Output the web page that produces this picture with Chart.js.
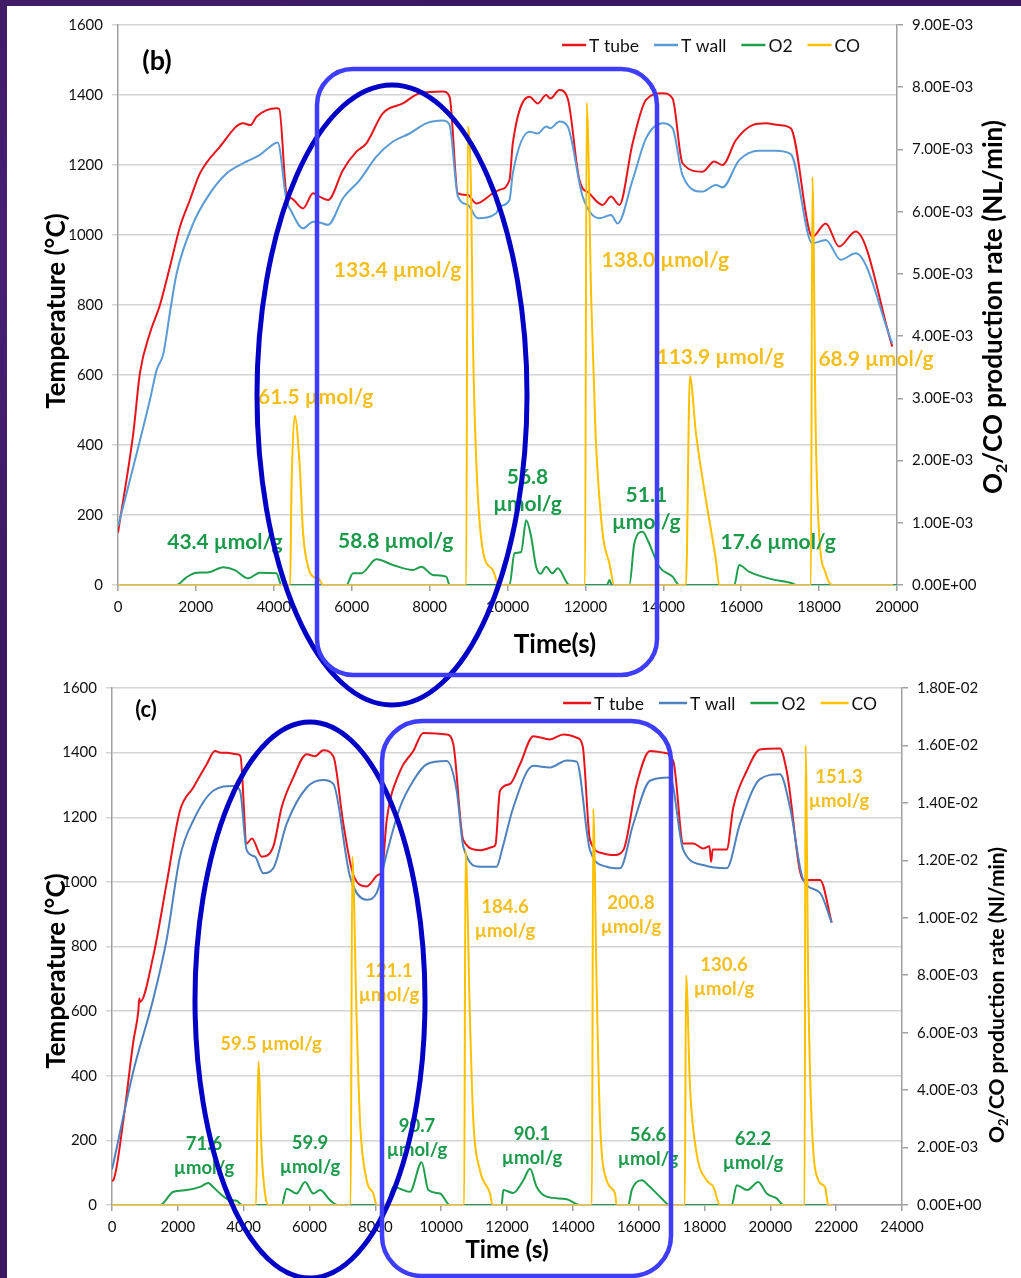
<!DOCTYPE html>
<html>
<head>
<meta charset="utf-8">
<script src="https://cdn.jsdelivr.net/npm/chart.js@4/dist/chart.umd.min.js"></script>
<style>
  body { margin: 0; width: 1021px; height: 1278px; overflow: hidden; position: relative;
    background: radial-gradient(circle at 10% 20%, #4a2276 0, transparent 30%),
                radial-gradient(circle at 80% 90%, #45206f 0, transparent 35%), #3b1861; }
  #paper { position: absolute; left: 7px; top: 6px; right: 0; bottom: 0; background: #fff; }
  canvas { position: absolute; left: 0; }
  #chartB { top: 0; }
  #chartC { top: 670px; }
  svg { position: absolute; left: 0; top: 0; }
</style>
</head>
<body>
<div id="paper"></div>
<canvas id="chartB" width="1021" height="680"></canvas>
<canvas id="chartC" width="1021" height="608"></canvas>
<svg width="1021" height="1278">
  <ellipse cx="392" cy="395" rx="135" ry="310" fill="none" stroke="#0202c6" stroke-width="5"/>
  <rect x="317" y="69" width="340" height="606" rx="36" fill="none" stroke="#3d3dfb" stroke-width="4.5"/>
  <ellipse cx="310" cy="1000" rx="115" ry="278" fill="none" stroke="#0202c6" stroke-width="5"/>
  <rect x="382" y="721" width="289" height="555" rx="40" fill="none" stroke="#3d3dfb" stroke-width="4.5"/>
</svg>
<script>
// ---- panel (b): [time s, value] ----
const bTube = [[0,150],[393,434],[564,606],[820,720],[1077,800],[1333,909],[1590,1023],[1846,1100],[2103,1176],
  [2615,1252],[3213,1319],[3400,1314],[3556,1338],[4069,1362],[4140,1360],[4325,1119],[4453,1105],[4752,1076],
  [5008,1119],[5200,1108],[5393,1100],[5777,1186],[6120,1238],[6377,1262],[6803,1348],[7316,1376],[7744,1405],
  [8341,1410],[8513,1395],[8726,1119],[8982,1114],[9197,1090],[9623,1119],[9795,1129],[10051,1157],[10136,1262],
  [10564,1395],[10777,1376],[10992,1400],[11100,1390],[11333,1414],[11546,1390],[11846,1157],[12102,1119],
  [12443,1086],[12658,1110],[12871,1086],[13212,1262],[13556,1386],[13982,1405],[14238,1390],[14494,1205],
  [15007,1181],[15307,1210],[15520,1200],[15864,1271],[16290,1314],[16632,1319],[16974,1314],[17274,1305],
  [17828,995],[18171,1033],[18513,967],[18940,1010],[19880,681]];
const bWall = [[0,167],[393,338],[820,529],[992,614],[1162,660],[1350,790],[1505,890],[1931,1033],[2359,1119],
  [2787,1176],[3213,1205],[3300,1210],[3641,1229],[4025,1262],[4100,1264],[4325,1100],[4453,1067],[4752,1019],
  [5008,1038],[5200,1035],[5393,1029],[5777,1105],[6205,1157],[6633,1224],[7060,1267],[7487,1290],[7915,1319],
  [8341,1327],[8513,1314],[8726,1110],[8982,1086],[9238,1048],[9710,1062],[9795,1081],[10051,1100],[10136,1176],
  [10564,1295],[10777,1290],[10992,1310],[11100,1305],[11333,1324],[11546,1310],[11930,1110],[12359,1048],
  [12658,1057],[12828,1033],[13212,1157],[13556,1276],[13982,1319],[14238,1305],[14494,1171],[15007,1124],
  [15350,1143],[15520,1136],[15948,1214],[16461,1241],[16888,1241],[17274,1231],[17828,976],[18171,986],
  [18556,929],[18940,948],[19880,690]];
const bO2 = [[0,0],[1500,0],[1750,1.2e-4],[2018,1.98e-4],[2300,2.0e-4],[2700,2.84e-4],[3000,2.4e-4],[3341,1.07e-4],
  [3641,1.98e-4],[4069,1.88e-4],[4197,0],[5862,0],[6034,1.88e-4],[6250,1.9e-4],[6633,4.13e-4],[7060,3.21e-4],
  [7573,2.41e-4],[7787,2.94e-4],[8085,1.61e-4],[8428,1.34e-4],[8513,0],[10051,0],[10179,5.1e-4],[10350,5.3e-4],
  [10479,1.04e-3],[10600,8.0e-4],[10735,2.94e-4],[10850,1.8e-4],[10992,2.94e-4],[11150,1.88e-4],[11290,2.68e-4],
  [11590,0],[12550,0],[12620,8e-5],[12680,0],[13128,0],[13256,6.7e-4],[13469,8.57e-4],[13600,7.2e-4],
  [13897,2.94e-4],[14238,1.34e-4],[14410,0],[15820,0],[15948,3.21e-4],[16200,2.14e-4],[16802,9e-5],
  [17315,2.7e-5],[17400,0],[20000,0]];
const bCO = [[0,0],[4420,0],[4453,1.5e-3],[4538,2.72e-3],[4667,1.9e-3],[4752,8.3e-4],[4880,2.94e-4],[5008,1.34e-4],
  [5150,1.07e-4],[5264,0],[8940,0],[8982,7.37e-3],[9068,6.19e-3],[9111,4.0e-3],[9197,2.0e-3],[9366,5.6e-4],
  [9623,2.4e-4],[9780,0],[11990,0],[12033,7.75e-3],[12150,4.58e-3],[12260,2.44e-3],[12443,8.3e-4],[12615,3.5e-4],
  [12743,0],[14581,0],[14684,3.36e-3],[14838,2.44e-3],[15094,1.37e-3],[15350,4.0e-4],[15435,0],[17790,0],
  [17828,6.56e-3],[17914,2.44e-3],[18000,8.3e-4],[18171,1.88e-4],[18340,0],[19900,0]];
// amounts written on panel (b): [text, time, temperature]
const bCoNotes = [['133.4 µmol/g',7179,900],['138.0 µmol/g',14051,929],['61.5 µmol/g',5077,537],
  ['113.9 µmol/g',15462,651],['68.9 µmol/g',19462,646]];
const bO2Notes = [['43.4 µmol/g',2744,123],['58.8 µmol/g',7128,126],['56.8\nµmol/g',10513,309],
  ['51.1\nµmol/g',13564,257],['17.6 µmol/g',16949,123]];

// ---- panel (c) ----
const cTube = [[0,75],[40,77],[344,261],[648,506],[800,600],[830,640],[851,628],[1255,771],[1661,996],[2066,1221],
  [2470,1292],[2877,1364],[3129,1405],[3300,1400],[3484,1400],[3788,1395],[3900,1390],[4092,1119],[4250,1134],
  [4548,1078],[4900,1109],[5155,1231],[5508,1323],[5915,1395],[6167,1389],[6420,1407],[6724,1389],[7028,1180],
  [7331,1022],[7737,986],[8091,1022],[8200,1030],[8345,1190],[8750,1343],[9153,1405],[9458,1461],[10168,1456],
  [10370,1425],[10673,1129],[11180,1098],[11584,1109],[11650,1115],[11787,1282],[12091,1303],[12395,1364],
  [12800,1451],[13306,1441],[13711,1456],[14117,1446],[14300,1420],[14522,1129],[14926,1088],[15230,1083],
  [15534,1098],[15940,1303],[16345,1405],[16749,1400],[17053,1374],[17357,1119],[17660,1119],[17963,1103],
  [18150,1110],[18200,1062],[18250,1100],[18674,1100],[18876,1231],[19282,1343],[19686,1410],[20294,1413],
  [20497,1343],[21001,1006],[21509,1006],[21864,874]];
const cWall = [[0,110],[40,128],[648,414],[1255,638],[1661,822],[2066,1078],[2470,1190],[3077,1282],[3686,1297],
  [3889,1282],[4092,1098],[4345,1078],[4597,1027],[4900,1042],[5307,1180],[5915,1292],[6420,1315],[6724,1303],
  [7230,1017],[7737,945],[8041,966],[8345,1088],[8750,1231],[9153,1313],[9560,1364],[10168,1374],[10472,1282],
  [10673,1109],[11180,1047],[11686,1047],[11850,1100],[12193,1231],[12800,1359],[13306,1354],[13813,1376],
  [14117,1372],[14522,1098],[15028,1047],[15433,1042],[15838,1180],[16345,1313],[16952,1323],[17357,1098],
  [17963,1052],[18674,1042],[19079,1180],[19686,1318],[20294,1333],[20598,1231],[21001,1006],[21509,966],
  [21864,874]];
const cO2 = [[0,0],[1458,0],[1863,4.6e-4],[2268,5.2e-4],[2673,6.3e-4],[2926,7.7e-4],[3050,6.5e-4],[3281,4.0e-4],
  [3585,1.7e-4],[3788,1.5e-4],[3950,0],[5155,0],[5307,5.7e-4],[5611,4.0e-4],[5864,8.0e-4],[6116,4.0e-4],
  [6319,5.2e-4],[6623,1.7e-4],[6850,0],[8345,0],[8547,6.3e-4],[9053,4.6e-4],[9408,1.49e-3],[9610,5.2e-4],
  [9965,4.0e-4],[10269,0],[11837,0],[11888,5.2e-4],[12190,4.2e-4],[12496,8.6e-4],[12699,1.26e-3],[12902,6.3e-4],
  [13205,2.9e-4],[13813,2.0e-4],[14218,0],[15686,0],[15790,5.2e-4],[16091,8.6e-4],[16290,6.9e-4],[16648,2.9e-4],
  [16952,0],[18826,0],[18978,6.9e-4],[19300,5.2e-4],[19635,8.0e-4],[19889,4.0e-4],[20193,2.3e-4],[20396,0],
  [21700,0]];
const cCO = [[0,0],[4375,0],[4446,5.0e-3],[4548,1.78e-3],[4648,4.0e-4],[4750,0],[7250,0],[7300,1.213e-2],
  [7433,6.4e-3],[7534,2.93e-3],[7737,8.6e-4],[7939,4.0e-4],[8041,0],[10700,0],[10740,1.235e-2],[10876,6.4e-3],
  [10977,2.93e-3],[11180,1.2e-3],[11484,4.0e-4],[11560,0],[14580,0],[14620,1.38e-2],[14725,7.5e-3],[14825,2.93e-3],
  [15028,8.6e-4],[15281,4.0e-4],[15332,0],[17400,0],[17440,7.99e-3],[17560,4.08e-3],[17763,1.78e-3],
  [18067,8.6e-4],[18270,6.3e-4],[18472,0],[21040,0],[21070,1.6e-2],[21154,7.5e-3],[21256,2.93e-3],[21458,8.6e-4],
  [21661,6.3e-4],[21762,0],[21900,0]];
const cCoNotes = [['59.5 µmol/g',4830,497],['121.1\nµmol/g',8415,723],['184.6\nµmol/g',11939,923],
  ['200.8\nµmol/g',15767,935],['130.6\nµmol/g',18593,742],['151.3\nµmol/g',22086,1324]];
const cO2Notes = [['71.6\nµmol/g',2795,190],['59.9\nµmol/g',6015,193],['90.7\nµmol/g',9266,245],
  ['90.1\nµmol/g',12760,221],['56.6\nµmol/g',16284,215],['62.2\nµmol/g',19474,205]];

const FAM = 'Lato, "Open Sans", sans-serif';
const RED = '#e8141c', GREEN = '#1f9e4e', GOLD = '#ffc000';
const NOTE_GOLD = '#f3bf1f', NOTE_GREEN = '#1c9a4c';

function sci(v) {
  const [m, e] = Number(v).toExponential(2).split('e');
  const n = parseInt(e, 10);
  return m + 'E' + (n < 0 ? '-' : '+') + String(Math.abs(n)).padStart(2, '0');
}
function plain(v) { return String(v); }
function pts(a) { return a.map(p => ({x: p[0], y: p[1]})); }

function richText(ctx, parts, x, y, rot, size) {
  ctx.save();
  ctx.translate(x, y);
  ctx.rotate(rot);
  const big = 'bold ' + size + 'px ' + FAM;
  const small = 'bold ' + Math.round(size * 0.62) + 'px ' + FAM;
  let w = 0;
  parts.forEach(p => { ctx.font = p[1] ? small : big; w += ctx.measureText(p[0]).width; });
  let cx = -w / 2;
  ctx.textAlign = 'left';
  ctx.textBaseline = 'middle';
  ctx.fillStyle = '#000';
  parts.forEach(p => {
    ctx.font = p[1] ? small : big;
    ctx.fillText(p[0], cx, p[1] ? size * 0.32 : 0);
    cx += ctx.measureText(p[0]).width;
  });
  ctx.restore();
}

const notes = {
  id: 'notes',
  afterDraw(chart, args, o) {
    const {ctx, scales: {x, y}} = chart;
    ctx.save();
    // amount labels
    o.labels.forEach(set => {
      ctx.font = 'bold ' + set.size + 'px ' + FAM;
      ctx.fillStyle = set.color;
      ctx.textAlign = 'center';
      ctx.textBaseline = 'middle';
      set.items.forEach(([txt, tx, ty]) => {
        const px = x.getPixelForValue(tx), py = y.getPixelForValue(ty);
        txt.split('\n').forEach((line, i) => ctx.fillText(line, px, py + i * set.gap));
      });
    });
    // titles
    o.titles.forEach(t => richText(ctx, t.parts, t.x, t.y, t.rot || 0, t.size));
    // legend
    ctx.font = o.legend.size + 'px ' + FAM;
    ctx.textBaseline = 'middle';
    ctx.textAlign = 'left';
    const items = chart.data.datasets.map(d => ({label: d.label, color: d.borderColor, w: ctx.measureText(d.label).width}));
    const L = o.legend.line, gapT = 3, gapI = o.legend.gap;
    let total = items.reduce((s, it) => s + L + gapT + it.w, 0) + gapI * (items.length - 1);
    let cx = o.legend.right - total;
    const ly = o.legend.y;
    items.forEach(it => {
      ctx.strokeStyle = it.color;
      ctx.lineWidth = 2.5;
      ctx.beginPath(); ctx.moveTo(cx, ly); ctx.lineTo(cx + L, ly); ctx.stroke();
      cx += L + gapT;
      ctx.fillStyle = '#111';
      ctx.fillText(it.label, cx, ly + 1);
      cx += it.w + gapI;
    });
    ctx.restore();
  }
};

function series(label, data, color, axis, order) {
  return {label, data: pts(data), borderColor: color, backgroundColor: color, yAxisID: axis, order,
    borderWidth: 2, pointRadius: 0, fill: false, cubicInterpolationMode: 'monotone'};
}

function makeChart(id, cfg) {
  const tickFont = {family: FAM, size: 15};
  const border = {color: '#a0a0a0', width: 1.5};
  return new Chart(document.getElementById(id), {
    type: 'line',
    data: {datasets: [
      series('T tube', cfg.tube, RED, 'y', 3),
      series('T wall', cfg.wall, cfg.wallColor, 'y', 2),
      series('O2', cfg.o2, GREEN, 'y1', 1),
      series('CO', cfg.co, GOLD, 'y1', 0)
    ]},
    options: {
      responsive: false,
      animation: false,
      layout: {padding: {top: cfg.top, left: 0, right: 0, bottom: 0}},
      plugins: {
        legend: {display: false},
        tooltip: {enabled: false},
        notes: cfg.notes
      },
      scales: {
        x: {type: 'linear', min: 0, max: cfg.xMax, border,
          afterFit: s => { s.height = cfg.xH; },
          ticks: {stepSize: 2000, callback: plain, font: tickFont, color: '#111', padding: 7, maxRotation: 0, autoSkip: false},
          grid: {drawOnChartArea: false, tickLength: 6, color: '#a0a0a0', lineWidth: 1.5}},
        y: {position: 'left', min: 0, max: 1600, border,
          afterFit: s => { s.width = cfg.left; },
          ticks: {stepSize: 200, callback: plain, font: tickFont, color: '#111', padding: 9},
          grid: {color: '#d4d4d4', lineWidth: 1.5, tickLength: 6}},
        y1: {position: 'right', min: 0, max: cfg.rMax, border,
          afterFit: s => { s.width = cfg.right; },
          ticks: {stepSize: cfg.rStep, callback: sci, font: tickFont, color: '#111', padding: 9},
          grid: {drawOnChartArea: false, tickLength: 6, color: '#a0a0a0', lineWidth: 1.5}}
      }
    },
    plugins: [notes]
  });
}

Chart.defaults.font.family = FAM;

makeChart('chartB', {
  tube: bTube, wall: bWall, o2: bO2, co: bCO, wallColor: '#5b9bd5',
  top: 25, xH: 95, left: 118, right: 124, xMax: 20000, rMax: 0.009, rStep: 0.001,
  notes: {
    labels: [
      {items: bCoNotes, color: NOTE_GOLD, size: 21, gap: 27},
      {items: bO2Notes, color: NOTE_GREEN, size: 21, gap: 27}
    ],
    titles: [
      {parts: [['Temperature (°C)']], x: 57, y: 311, rot: -Math.PI / 2, size: 26},
      {parts: [['O'], ['2', 1], ['/CO production rate (NL/min)']], x: 994, y: 307, rot: -Math.PI / 2, size: 26},
      {parts: [['Time(s)']], x: 555, y: 645, size: 26},
      {parts: [['(b)']], x: 157, y: 61, size: 27}
    ],
    legend: {right: 860, y: 45, line: 24, gap: 15, size: 17.5}
  }
});

makeChart('chartC', {
  tube: cTube, wall: cWall, o2: cO2, co: cCO, wallColor: '#4f81bd',
  top: 13, xH: 73, left: 112, right: 119, xMax: 24000, rMax: 0.018, rStep: 0.002,
  notes: {
    labels: [
      {items: cCoNotes, color: NOTE_GOLD, size: 18.5, gap: 24},
      {items: cO2Notes, color: NOTE_GREEN, size: 18.5, gap: 24}
    ],
    titles: [
      {parts: [['Temperature (°C)']], x: 57, y: 301, rot: -Math.PI / 2, size: 26},
      {parts: [['O'], ['2', 1], ['/CO production rate (Nl/min)']], x: 997, y: 325, rot: -Math.PI / 2, size: 21},
      {parts: [['Time (s)']], x: 507, y: 580, size: 24.5},
      {parts: [['(c)']], x: 146, y: 40, size: 22}
    ],
    legend: {right: 877, y: 33, line: 28, gap: 15, size: 17.5}
  }
});
</script>
</body>
</html>
